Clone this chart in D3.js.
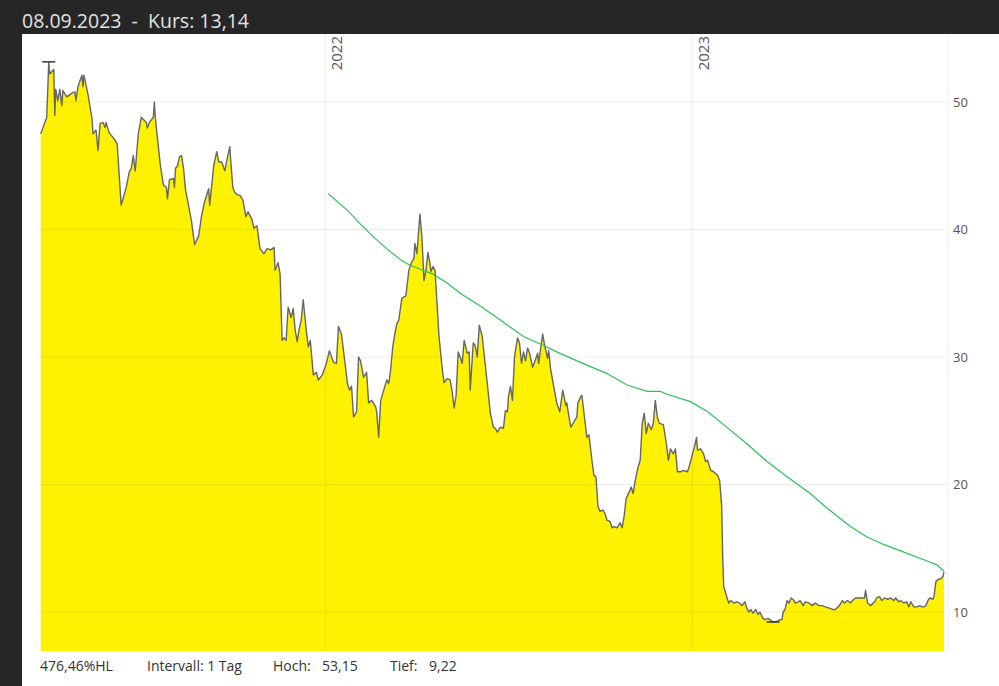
<!DOCTYPE html>
<html><head><meta charset="utf-8">
<script src="https://cdn.jsdelivr.net/npm/d3@7"></script>
<style>
body{margin:0;background:#262626;}
svg{display:block;font-family:'Open Sans',sans-serif;}
</style>
</head><body><svg id="c" width="999" height="686"></svg>
<script>
// ---------- DATA ----------
const priceSeries = [["2021-03-24",47.5],["2021-03-30",48.8],["2021-04-01",53.1],["2021-04-02",52.2],["2021-04-06",52.55],["2021-04-07",48.95],["2021-04-08",51.0],["2021-04-10",50.1],["2021-04-12",51.0],["2021-04-14",49.7],["2021-04-15",50.9],["2021-04-19",50.4],["2021-04-24",50.7],["2021-04-27",50.8],["2021-04-28",50.1],["2021-04-30",51.2],["2021-05-04",52.1],["2021-05-05",51.2],["2021-05-06",52.1],["2021-05-10",50.6],["2021-05-14",48.7],["2021-05-15",47.5],["2021-05-18",47.8],["2021-05-20",46.2],["2021-05-22",48.3],["2021-05-25",48.4],["2021-05-27",48.0],["2021-05-28",48.4],["2021-05-31",47.6],["2021-06-06",47.0],["2021-06-08",46.7],["2021-06-12",41.9],["2021-06-17",43.3],["2021-06-20",44.5],["2021-06-22",44.8],["2021-06-24",45.8],["2021-06-26",44.6],["2021-06-29",47.5],["2021-07-02",48.8],["2021-07-07",48.4],["2021-07-08",47.95],["2021-07-10",48.4],["2021-07-14",48.8],["2021-07-15",50.0],["2021-07-16",48.7],["2021-07-21",45.0],["2021-07-24",43.5],["2021-07-27",43.3],["2021-07-28",42.4],["2021-07-30",43.9],["2021-08-03",44.0],["2021-08-04",43.3],["2021-08-05",44.8],["2021-08-07",45.0],["2021-08-09",45.7],["2021-08-11",45.8],["2021-08-13",44.8],["2021-08-15",43.1],["2021-08-17",42.3],["2021-08-21",40.6],["2021-08-24",38.8],["2021-08-28",39.5],["2021-08-31",41.1],["2021-09-03",42.2],["2021-09-07",43.2],["2021-09-08",41.9],["2021-09-12",45.0],["2021-09-15",46.1],["2021-09-17",45.3],["2021-09-20",45.3],["2021-09-23",44.6],["2021-09-26",45.8],["2021-09-28",46.5],["2021-09-29",45.3],["2021-10-01",43.3],["2021-10-03",42.9],["2021-10-06",42.7],["2021-10-08",42.7],["2021-10-11",42.3],["2021-10-14",41.0],["2021-10-16",41.4],["2021-10-20",40.8],["2021-10-22",40.1],["2021-10-25",40.3],["2021-10-28",38.5],["2021-11-01",38.1],["2021-11-04",38.5],["2021-11-08",38.4],["2021-11-11",38.6],["2021-11-12",36.8],["2021-11-15",37.4],["2021-11-17",36.5],["2021-11-19",31.3],["2021-11-21",31.5],["2021-11-23",31.3],["2021-11-25",33.9],["2021-11-28",33.1],["2021-11-30",33.8],["2021-12-02",32.1],["2021-12-04",31.2],["2021-12-06",32.2],["2021-12-08",32.9],["2021-12-10",34.5],["2021-12-13",32.1],["2021-12-15",30.8],["2021-12-17",31.3],["2021-12-20",28.6],["2021-12-23",28.8],["2021-12-25",28.2],["2021-12-29",28.6],["2022-01-02",29.5],["2022-01-05",30.5],["2022-01-09",29.6],["2022-01-12",29.5],["2022-01-14",32.4],["2022-01-17",31.8],["2022-01-19",30.5],["2022-01-23",27.9],["2022-01-25",27.4],["2022-01-27",27.7],["2022-01-29",25.3],["2022-02-01",25.7],["2022-02-03",30.0],["2022-02-05",29.7],["2022-02-08",28.4],["2022-02-11",28.8],["2022-02-13",26.4],["2022-02-16",26.6],["2022-02-20",26.1],["2022-02-21",25.7],["2022-02-23",23.7],["2022-02-25",26.6],["2022-02-28",27.4],["2022-03-03",28.2],["2022-03-05",27.9],["2022-03-07",29.1],["2022-03-09",30.8],["2022-03-11",31.8],["2022-03-13",32.6],["2022-03-15",32.9],["2022-03-18",34.6],["2022-03-22",34.8],["2022-03-25",36.8],["2022-03-28",37.5],["2022-03-30",37.7],["2022-03-31",38.9],["2022-04-02",38.1],["2022-04-05",41.2],["2022-04-07",39.4],["2022-04-09",36.0],["2022-04-11",36.8],["2022-04-13",38.2],["2022-04-15",37.3],["2022-04-16",36.7],["2022-04-18",37.1],["2022-04-20",36.8],["2022-04-24",31.6],["2022-04-27",29.2],["2022-04-29",28.0],["2022-05-02",28.3],["2022-05-05",28.2],["2022-05-07",27.3],["2022-05-09",26.0],["2022-05-11",27.0],["2022-05-13",30.4],["2022-05-15",30.0],["2022-05-17",29.5],["2022-05-19",31.3],["2022-05-22",30.3],["2022-05-24",30.4],["2022-05-25",27.4],["2022-05-28",31.1],["2022-05-30",30.9],["2022-06-01",30.0],["2022-06-03",32.5],["2022-06-06",31.6],["2022-06-07",30.8],["2022-06-11",27.9],["2022-06-14",25.6],["2022-06-17",24.5],["2022-06-19",24.4],["2022-06-21",24.1],["2022-06-24",24.5],["2022-06-27",24.4],["2022-06-29",25.8],["2022-07-01",25.7],["2022-07-02",26.9],["2022-07-04",27.7],["2022-07-06",26.6],["2022-07-08",30.0],["2022-07-11",31.5],["2022-07-13",31.1],["2022-07-15",29.5],["2022-07-17",30.4],["2022-07-19",29.7],["2022-07-21",30.7],["2022-07-23",30.3],["2022-07-26",29.2],["2022-07-28",29.6],["2022-07-31",30.3],["2022-08-01",29.5],["2022-08-05",31.8],["2022-08-07",30.9],["2022-08-10",29.9],["2022-08-11",30.5],["2022-08-13",29.0],["2022-08-16",27.7],["2022-08-19",26.4],["2022-08-22",25.7],["2022-08-25",27.4],["2022-08-28",26.2],["2022-08-29",26.4],["2022-08-31",25.4],["2022-09-02",24.5],["2022-09-05",24.9],["2022-09-08",25.3],["2022-09-09",26.4],["2022-09-12",26.9],["2022-09-13",27.0],["2022-09-16",25.0],["2022-09-18",23.7],["2022-09-20",23.9],["2022-09-23",21.9],["2022-09-25",20.7],["2022-09-27",20.6],["2022-09-29",18.3],["2022-10-01",17.9],["2022-10-04",18.0],["2022-10-06",17.7],["2022-10-08",17.2],["2022-10-11",17.1],["2022-10-13",16.6],["2022-10-15",16.7],["2022-10-18",16.6],["2022-10-21",17.0],["2022-10-23",16.6],["2022-10-25",17.5],["2022-10-27",18.9],["2022-10-30",19.4],["2022-11-01",19.8],["2022-11-03",19.3],["2022-11-05",20.3],["2022-11-08",21.4],["2022-11-10",21.9],["2022-11-12",24.8],["2022-11-14",25.6],["2022-11-16",24.0],["2022-11-18",24.8],["2022-11-21",24.3],["2022-11-23",24.8],["2022-11-25",26.6],["2022-11-27",25.3],["2022-11-29",24.8],["2022-12-03",24.7],["2022-12-06",23.2],["2022-12-08",21.9],["2022-12-10",22.8],["2022-12-13",22.4],["2022-12-15",22.8],["2022-12-17",21.0],["2022-12-20",21.0],["2022-12-23",21.1],["2022-12-27",21.0],["2022-12-29",21.5],["2023-01-01",22.4],["2023-01-03",23.0],["2023-01-05",23.7],["2023-01-06",22.7],["2023-01-09",22.8],["2023-01-12",22.4],["2023-01-14",21.8],["2023-01-16",21.9],["2023-01-19",21.1],["2023-01-22",21.0],["2023-01-26",20.7],["2023-01-28",20.3],["2023-01-30",18.3],["2023-01-31",14.3],["2023-02-01",12.0],["2023-02-04",11.2],["2023-02-06",10.7],["2023-02-08",10.9],["2023-02-11",10.7],["2023-02-14",10.8],["2023-02-17",10.7],["2023-02-19",10.5],["2023-02-22",10.8],["2023-02-24",10.3],["2023-02-26",10.0],["2023-02-28",10.2],["2023-03-02",9.9],["2023-03-05",10.2],["2023-03-07",9.8],["2023-03-09",10.0],["2023-03-12",9.5],["2023-03-14",9.4],["2023-03-17",9.5],["2023-03-19",9.4],["2023-03-22",9.22],["2023-03-26",9.25],["2023-03-29",9.4],["2023-03-31",9.4],["2023-04-01",10.0],["2023-04-03",10.2],["2023-04-05",10.9],["2023-04-07",10.7],["2023-04-09",11.1],["2023-04-12",10.9],["2023-04-13",10.7],["2023-04-16",10.8],["2023-04-18",10.9],["2023-04-21",10.5],["2023-04-23",10.8],["2023-04-27",10.7],["2023-04-30",10.5],["2023-05-03",10.7],["2023-05-07",10.5],["2023-05-10",10.5],["2023-05-13",10.4],["2023-05-17",10.3],["2023-05-20",10.2],["2023-05-23",10.2],["2023-05-27",10.5],["2023-05-30",10.9],["2023-06-01",10.7],["2023-06-04",10.9],["2023-06-07",10.7],["2023-06-09",10.9],["2023-06-12",11.1],["2023-06-17",11.1],["2023-06-21",11.1],["2023-06-22",11.7],["2023-06-24",10.7],["2023-06-27",10.5],["2023-07-01",10.8],["2023-07-03",11.1],["2023-07-06",11.2],["2023-07-08",10.9],["2023-07-11",11.1],["2023-07-14",11.0],["2023-07-17",11.1],["2023-07-20",10.9],["2023-07-22",11.1],["2023-07-25",10.8],["2023-07-27",10.9],["2023-07-30",10.7],["2023-08-02",10.8],["2023-08-04",10.4],["2023-08-06",10.8],["2023-08-09",10.4],["2023-08-12",10.4],["2023-08-15",10.5],["2023-08-17",10.4],["2023-08-19",10.4],["2023-08-21",10.5],["2023-08-23",10.9],["2023-08-25",11.1],["2023-08-28",11.0],["2023-08-29",11.2],["2023-08-31",12.4],["2023-09-03",12.6],["2023-09-05",12.6],["2023-09-07",12.8],["2023-09-08",13.14]];

const movingAverage = [["2022-01-04",42.8],["2022-01-23",41.5],["2022-02-04",40.5],["2022-02-18",39.4],["2022-03-03",38.5],["2022-03-17",37.6],["2022-03-26",37.2],["2022-04-05",36.9],["2022-04-18",36.5],["2022-05-02",35.8],["2022-05-15",35.0],["2022-06-04",34.0],["2022-06-24",32.9],["2022-07-17",31.6],["2022-08-06",30.9],["2022-08-19",30.4],["2022-09-11",29.6],["2022-10-08",28.7],["2022-10-28",27.8],["2022-11-17",27.3],["2022-11-30",27.3],["2022-12-06",27.1],["2022-12-30",26.5],["2023-01-16",25.7],["2023-02-04",24.5],["2023-02-24",23.2],["2023-03-16",21.8],["2023-04-05",20.6],["2023-04-28",19.3],["2023-05-14",18.2],["2023-05-30",17.2],["2023-06-07",16.7],["2023-06-23",15.9],["2023-07-10",15.3],["2023-07-30",14.7],["2023-08-19",14.1],["2023-09-01",13.7],["2023-09-08",13.2]];

const yTicks = [10, 20, 30, 40, 50];
const yearTicks = ["2022-01-01", "2023-01-01"];
const titleText = "08.09.2023  -  Kurs: 13,14";
const footerItems = ["476,46%HL", "Intervall: 1 Tag", "Hoch:", "53,15", "Tief:", "9,22"];
const highValue = 53.15;
const lowValue = 9.22;

// ---------- LAYOUT ----------
const W = 999, H = 686;
const panel = {x: 22, y: 34};
const plot = {left: 40.7, right: 944, top: 34, bottom: 651, frame: 948};
const footerX = [40, 147, 273, 322, 390, 429];

const parse = d3.timeParse("%Y-%m-%d");
const prices = priceSeries.map(d => ({date: parse(d[0]), value: d[1]}));
const ma = movingAverage.map(d => ({date: parse(d[0]), value: d[1]}));

const x = d3.scaleTime().domain(d3.extent(prices, d => d.date)).range([plot.left, plot.right]);
const y = d3.scaleLinear().domain([10, 50]).range([612, 102]);

const svg = d3.select("#c");
svg.append("rect").attr("width", W).attr("height", H).attr("fill", "#262626");
svg.append("rect").attr("x", panel.x).attr("y", panel.y).attr("width", W - panel.x).attr("height", H - panel.y).attr("fill", "#ffffff");

// area
svg.append("path").datum(prices)
  .attr("fill", "#fff200")
  .attr("d", d3.area().x(d => x(d.date)).y0(plot.bottom).y1(d => y(d.value)));

// grid
const grid = svg.append("g");
grid.selectAll("line.h").data(yTicks).join("line").attr("class", "h")
  .attr("x1", plot.left).attr("x2", plot.frame)
  .attr("y1", d => y(d)).attr("y2", d => y(d))
  .attr("stroke", "rgba(0,0,0,0.075)").attr("stroke-width", 1);
grid.selectAll("line.v").data(yearTicks.map(parse)).join("line").attr("class", "v")
  .attr("x1", d => x(d)).attr("x2", d => x(d))
  .attr("y1", plot.top).attr("y2", plot.bottom)
  .attr("stroke", "rgba(0,0,0,0.075)").attr("stroke-width", 1);
grid.append("line").attr("x1", plot.frame).attr("x2", plot.frame).attr("y1", plot.top).attr("y2", plot.bottom)
  .attr("stroke", "#f0f0f0");

// price line
svg.append("path").datum(prices)
  .attr("fill", "none").attr("stroke", "#666").attr("stroke-width", 1.4).attr("stroke-linejoin", "round")
  .attr("d", d3.line().x(d => x(d.date)).y(d => y(d.value)));

// moving average
svg.append("path").datum(ma)
  .attr("fill", "none").attr("stroke", "#2fbf5a").attr("stroke-width", 1.2)
  .attr("d", d3.line().x(d => x(d.date)).y(d => y(d.value)));

// high / low markers
const hi = prices.reduce((a, b) => b.value > a.value ? b : a);
const lo = prices.reduce((a, b) => b.value < a.value ? b : a);
[[hi, highValue], [lo, lowValue]].forEach(([p, v]) => {
  svg.append("line").attr("x1", x(p.date) - 6.5).attr("x2", x(p.date) + 6.5)
    .attr("y1", y(v)).attr("y2", y(v)).attr("stroke", "#333").attr("stroke-width", 1.5);
});

// y axis labels (right)
const yAxis = svg.append("g").attr("transform", `translate(${plot.frame},0)`)
  .call(d3.axisRight(y).tickValues(yTicks).tickSize(0).tickPadding(5).tickFormat(d3.format("d")));
yAxis.select(".domain").remove();
yAxis.selectAll("text").attr("fill", "#555").style("font-size", "13px").style("font-family", "'Open Sans',sans-serif");

// year labels (rotated)
const xAxis = svg.append("g").attr("transform", `translate(0,${plot.top})`)
  .call(d3.axisBottom(x).tickValues(yearTicks.map(parse)).tickSize(0).tickFormat(d3.timeFormat("%Y")));
xAxis.select(".domain").remove();
xAxis.selectAll("text")
  .attr("fill", "#555").style("font-size", "15px").style("font-family", "'Open Sans',sans-serif")
  .attr("text-anchor", "end").attr("dy", null).attr("y", 0)
  .attr("transform", "translate(16,2) rotate(-90)");

// title
svg.append("text").attr("x", 22).attr("y", 28).attr("fill", "#e2e2e2")
  .style("font-size", "19.5px").style("white-space", "pre").text(titleText);

// footer
svg.selectAll("text.foot").data(footerItems).join("text").attr("class", "foot")
  .attr("x", (d, i) => footerX[i]).attr("y", 671)
  .attr("fill", "#333").style("font-size", "14px").text(d => d);
</script>
</body></html>
